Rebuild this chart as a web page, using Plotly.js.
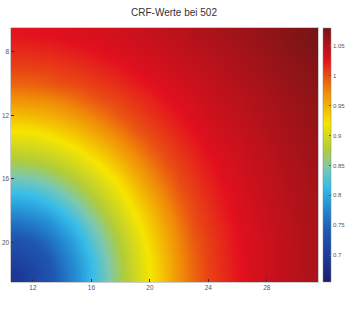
<!DOCTYPE html>
<html>
<head>
<meta charset="utf-8">
<script src="https://cdn.plot.ly/plotly-3.0.1.min.js"></script>
<style>html,body{margin:0;padding:0;background:#fff;}#chart{width:348px;height:320px;}</style>
</head>
<body>
<div id="chart"></div>
<script>
var xValues = [11,12,13,14,15,16,17,18,19,20,21,22,23,24,25,26,27,28,29,30,31];
var yValues = [7,8,9,10,11,12,13,14,15,16,17,18,19,20,21,22];
var crfRow07 = [1.025,1.026,1.027,1.029,1.031,1.032,1.034,1.036,1.038,1.041,1.044,1.046,1.050,1.053,1.056,1.059,1.062,1.066,1.069,1.073,1.077];
var crfRow08 = [1.015,1.016,1.017,1.019,1.022,1.025,1.029,1.032,1.034,1.037,1.040,1.043,1.046,1.049,1.052,1.056,1.059,1.063,1.067,1.071,1.074];
var crfRow09 = [1.005,1.006,1.007,1.010,1.012,1.016,1.020,1.024,1.030,1.033,1.036,1.039,1.042,1.045,1.049,1.053,1.056,1.060,1.063,1.067,1.071];
var crfRow10 = [0.990,0.992,0.995,1.000,1.003,1.007,1.011,1.016,1.021,1.027,1.032,1.035,1.038,1.042,1.046,1.050,1.053,1.057,1.061,1.065,1.069];
var crfRow11 = [0.970,0.972,0.975,0.980,0.987,0.995,1.002,1.007,1.013,1.019,1.026,1.031,1.035,1.039,1.043,1.046,1.050,1.054,1.058,1.062,1.066];
var crfRow12 = [0.945,0.948,0.952,0.959,0.968,0.977,0.987,0.998,1.005,1.012,1.019,1.026,1.032,1.036,1.040,1.044,1.048,1.052,1.056,1.060,1.064];
var crfRow13 = [0.920,0.923,0.928,0.936,0.945,0.957,0.970,0.982,0.995,1.004,1.012,1.019,1.027,1.033,1.037,1.041,1.045,1.050,1.054,1.058,1.062];
var crfRow14 = [0.895,0.898,0.904,0.912,0.923,0.936,0.950,0.966,0.980,0.995,1.005,1.013,1.021,1.030,1.034,1.038,1.043,1.047,1.052,1.056,1.060];
var crfRow15 = [0.870,0.874,0.880,0.890,0.901,0.915,0.930,0.948,0.966,0.982,0.998,1.007,1.016,1.024,1.032,1.036,1.041,1.045,1.050,1.054,1.059];
var crfRow16 = [0.841,0.845,0.854,0.866,0.880,0.895,0.912,0.930,0.950,0.970,0.987,1.002,1.011,1.020,1.029,1.034,1.039,1.043,1.048,1.053,1.057];
var crfRow17 = [0.811,0.816,0.826,0.841,0.858,0.877,0.895,0.915,0.936,0.957,0.977,0.995,1.007,1.016,1.025,1.032,1.037,1.042,1.047,1.051,1.056];
var crfRow18 = [0.783,0.789,0.800,0.816,0.836,0.858,0.880,0.901,0.923,0.945,0.968,0.987,1.003,1.012,1.022,1.031,1.036,1.040,1.045,1.050,1.055];
var crfRow19 = [0.755,0.763,0.776,0.795,0.816,0.841,0.866,0.890,0.912,0.936,0.959,0.980,1.000,1.010,1.019,1.029,1.034,1.039,1.044,1.049,1.054];
var crfRow20 = [0.731,0.738,0.755,0.776,0.800,0.826,0.854,0.880,0.904,0.928,0.952,0.975,0.995,1.007,1.017,1.027,1.033,1.038,1.043,1.048,1.053];
var crfRow21 = [0.712,0.722,0.738,0.763,0.789,0.816,0.845,0.874,0.898,0.923,0.948,0.972,0.992,1.006,1.016,1.026,1.033,1.038,1.043,1.048,1.053];
var crfRow22 = [0.694,0.712,0.731,0.755,0.783,0.811,0.841,0.870,0.895,0.920,0.945,0.970,0.990,1.005,1.015,1.025,1.033,1.038,1.043,1.048,1.052];
var xTicks = [12,16,20,24,28];
var yTicks = [8,12,16,20];
var cbTicks = [0.7,0.75,0.8,0.85,0.9,0.95,1,1.05];
var cbTickLabels = ['0.7','0.75','0.8','0.85','0.9','0.95','1','1.05'];

var zData = [crfRow07,crfRow08,crfRow09,crfRow10,crfRow11,crfRow12,crfRow13,crfRow14,
             crfRow15,crfRow16,crfRow17,crfRow18,crfRow19,crfRow20,crfRow21,crfRow22];

var jetLike = [
  [0.0,'#1b1c6a'],[0.1,'#1d3a98'],[0.2,'#1e58b2'],[0.3,'#2590d4'],
  [0.375,'#36bdea'],[0.45,'#7cc8b0'],[0.52,'#b0cc3a'],[0.625,'#f6e500'],
  [0.75,'#f08a08'],[0.875,'#e3101e'],[1.0,'#741515']
];

var trace = {
  type: 'heatmap',
  x: xValues, y: yValues, z: zData,
  zmin: 0.655, zmax: 1.08,
  zsmooth: 'best',
  colorscale: jetLike,
  colorbar: {
    x: 1.016, xanchor: 'left', y: 0.5, yanchor: 'middle',
    len: 1, lenmode: 'fraction', thickness: 8, xpad: 0, ypad: 0,
    outlinewidth: 0.5, outlinecolor: '#888',
    tickvals: cbTicks, ticktext: cbTickLabels,
    ticks: 'inside', ticklen: 2, tickcolor: '#555',
    tickfont: {family: 'Liberation Sans, Arial, sans-serif', size: 6, color: '#555'}
  },
  hoverinfo: 'skip'
};

var layout = {
  width: 348, height: 320,
  margin: {l: 11, r: 30, t: 28, b: 38, pad: 0, autoexpand: false},
  paper_bgcolor: '#ffffff', plot_bgcolor: '#ffffff',
  title: {text: 'CRF-Werte bei 502', x: 0.5, xanchor: 'center', y: 0.96, yanchor: 'middle',
          font: {family: 'Liberation Sans, Arial, sans-serif', size: 10, color: '#333'}},
  xaxis: {range: [10.5, 31.5], tickvals: xTicks, ticktext: xTicks.map(String),
          ticks: 'inside', ticklen: 3, tickcolor: '#333', showgrid: false, zeroline: false,
          showline: true, linecolor: '#999', linewidth: 0.5, mirror: true,
          tickfont: {family: 'Liberation Sans, Arial, sans-serif', size: 6.5, color: '#555'}},
  yaxis: {range: [22.5, 6.5], tickvals: yTicks, ticktext: yTicks.map(String),
          ticks: 'inside', ticklen: 3, tickcolor: '#333', showgrid: false, zeroline: false,
          showline: true, linecolor: '#999', linewidth: 0.5, mirror: true,
          tickfont: {family: 'Liberation Sans, Arial, sans-serif', size: 6.5, color: '#555'}}
};

Plotly.newPlot('chart', [trace], layout, {displayModeBar: false, staticPlot: true});
</script>
</body>
</html>
